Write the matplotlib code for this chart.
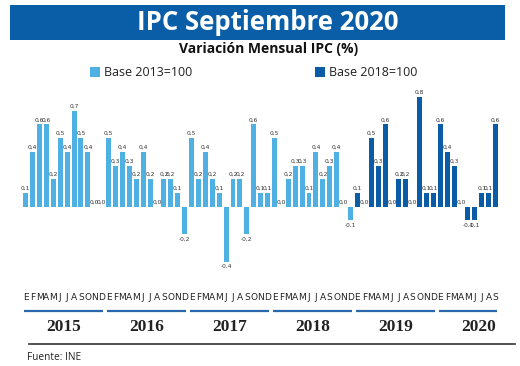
import matplotlib
matplotlib.use("Agg")
import matplotlib.pyplot as plt
from matplotlib.patches import Rectangle

# Variación mensual IPC (%), enero 2015 - septiembre 2020
years = ["2015", "2016", "2017", "2018", "2019", "2020"]
months = ["E", "F", "M", "A", "M", "J", "J", "A", "S", "O", "N", "D"]
base2013 = [
    0.1, 0.4, 0.6, 0.6, 0.2, 0.5, 0.4, 0.7, 0.5, 0.4, 0.0, 0.0,    # 2015
    0.5, 0.3, 0.4, 0.3, 0.2, 0.4, 0.2, 0.0, 0.2, 0.2, 0.1, -0.2,   # 2016
    0.5, 0.2, 0.4, 0.2, 0.1, -0.4, 0.2, 0.2, -0.2, 0.6, 0.1, 0.1,  # 2017
    0.5, 0.0, 0.2, 0.3, 0.3, 0.1, 0.4, 0.2, 0.3, 0.4, 0.0, -0.1,   # 2018
]
base2018 = [
    0.1, 0.0, 0.5, 0.3, 0.6, 0.0, 0.2, 0.2, 0.0, 0.8, 0.1, 0.1,    # 2019
    0.6, 0.4, 0.3, 0.0, -0.1, -0.1, 0.1, 0.1, 0.6,                 # 2020
]

light = "#4fb0e4"
dark = "#0b5ca6"
banner = "#0a5ea8"

W, H = 520, 366
fig = plt.figure(figsize=(W / 100, H / 100), dpi=100)
ax = fig.add_axes([0, 0, 1, 1])
ax.set_axis_off()

# pixel geometry of the bar area
x0, dx = 25.7, 6.91
y0, dy = 206.7, 137.0
ax.set_xlim(-x0 / dx, (W - x0) / dx)
ax.set_ylim(-(H - y0) / dy, y0 / dy)

n1 = len(base2013)
xs1 = list(range(n1))
xs2 = list(range(n1, n1 + len(base2018)))
ax.bar(xs1, base2013, width=0.72, color=light)
ax.bar(xs2, base2018, width=0.72, color=dark)

narrow = ["Liberation Sans Narrow", "DejaVu Sans"]
lab = dict(family=narrow, fontsize=4.2, color="#333333", ha="center")
for x, v in zip(xs1 + xs2, base2013 + base2018):
    s = ("%.1f" % v).replace(".", ",")
    if v < 0:
        ax.text(x, v - 0.02, s, va="top", **lab)
    else:
        ax.text(x, v + 0.015, s, va="bottom", **lab)

# month letters, year underlines and year labels
def fy(py):
    return 1 - py / H

tr = ax.get_xaxis_transform()
nall = n1 + len(base2018)
for i in range(nall):
    ax.text(i, fy(297), months[i % 12], transform=tr, ha="center", va="center",
            fontsize=6.5, family=narrow, color="#222222")
for k, yr in enumerate(years):
    i0 = 12 * k
    i1 = min(i0 + 11, nall - 1)
    ax.plot([i0 - 0.25, i1 + 0.25], [fy(311), fy(311)], transform=tr,
            color="#2a67ad", lw=1.6, solid_capstyle="butt")
    ax.text(i0 + 5.5, fy(327), yr, transform=tr, ha="center", va="center",
            fontsize=12.5, fontweight="bold", family="Liberation Serif",
            color="#222222")

fig.add_artist(plt.Line2D([29 / W, 515 / W], [fy(343.5), fy(343.5)],
                          color="#333333", lw=1.2))
fig.text(27 / W, fy(357), "Fuente: INE", fontsize=7.3, family="Open Sans",
         va="center", ha="left", color="#222222")

# header
fig.add_artist(Rectangle((10 / W, fy(40)), 495 / W, 35 / H,
                         transform=fig.transFigure, color=banner, lw=0))
fig.text(268 / W, fy(22.5), "IPC Septiembre 2020", color="white",
         fontsize=18.5, fontweight="bold", family="Open Sans",
         ha="center", va="center")
fig.text(269 / W, fy(49), "Variación Mensual IPC (%)", color="#111111",
         fontsize=10, fontweight="bold", family="Open Sans",
         ha="center", va="center")

# legend
fig.add_artist(Rectangle((90 / W, fy(77)), 10 / W, 10 / H,
                         transform=fig.transFigure, color=light, lw=0))
fig.text(104 / W, fy(72), "Base 2013=100", fontsize=9, family="Open Sans",
         va="center", ha="left", color="#222222")
fig.add_artist(Rectangle((315 / W, fy(77)), 10 / W, 10 / H,
                         transform=fig.transFigure, color=dark, lw=0))
fig.text(329 / W, fy(72), "Base 2018=100", fontsize=9, family="Open Sans",
         va="center", ha="left", color="#222222")

fig.savefig("out.png", dpi=100, facecolor="white")
